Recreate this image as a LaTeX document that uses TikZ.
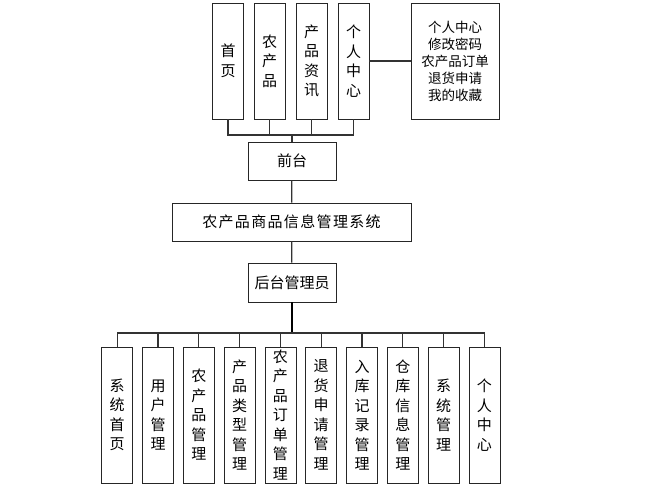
\documentclass[tikz,border=0pt]{standalone}
\usepackage{fontspec}
\setmainfont{Noto Sans CJK SC}
\newfontfamily\widefont[LetterSpace=9]{Noto Sans CJK SC}

\begin{document}
\begin{tikzpicture}[x=1pt,y=-1pt,
  vbox/.style={draw=black!85,line width=0.8pt,minimum width=31pt,inner sep=0pt,align=center,font=\fontsize{15}{19.5}\selectfont},
  hbox/.style={draw=black!85,line width=0.8pt,minimum width=88pt,minimum height=38pt,inner sep=0pt,font=\fontsize{15}{17}\selectfont},
  link/.style={draw=black!80,line width=1.2pt}]
  \useasboundingbox (0,0) rectangle (651,490);
  % front end
  \foreach \n/\x/\t in {t1/228/{首\\页},t2/269.5/{农\\产\\品},t3/311.5/{产\\品\\资\\讯},t4/353.5/{个\\人\\中\\心}}
    \node[vbox,minimum height=116pt] (\n) at (\x,61){\t};
  \node[hbox,minimum width=88pt,minimum height=116pt,align=center,font=\fontsize{13.5}{17}\selectfont] (geren) at (455,61){个人中心\\修改密码\\农产品订单\\退货申请\\我的收藏};
  \draw[link] (t4.east) -- (geren.west);

  \node[hbox] (qiantai) at (292,161){前台};
  \node[hbox,minimum width=239pt] (xitong) at (291.5,222){\widefont 农产品商品信息管理系统};
  \node[hbox,minimum height=39pt] (houtai) at (292,282.5){后台管理员};

  \coordinate (tbus) at (292,135);
  \foreach \n in {t1,t2,t3,t4}
    \draw[link] (\n.south) |- (tbus);
  \draw[link] (tbus) -- (qiantai.north);
  \draw[link] (qiantai) -- (xitong);
  \draw[link] (xitong) -- (houtai);

  % back end
  \foreach \n/\x/\t in {b1/117.2/{系\\统\\首\\页},b2/158/{用\\户\\管\\理},b3/198.8/{农\\产\\品\\管\\理},b4/239.6/{产\\品\\类\\型\\管\\理},
      b5/280.4/{农\\产\\品\\订\\单\\管\\理},b6/321.2/{退\\货\\申\\请\\管\\理},b7/362/{入\\库\\记\\录\\管\\理},b8/402.8/{仓\\库\\信\\息\\管\\理},
      b9/443.6/{系\\统\\管\\理},b10/484.4/{个\\人\\中\\心}}
    \node[vbox,minimum height=136pt] (\n) at (\x,415){\t};
  \coordinate (bbus) at (292,333);
  \draw[line width=2pt] (houtai.south) -- (bbus);
  \foreach \n in {b1,b2,b3,b4,b5,b6,b7,b8,b9,b10}
    \draw[link] (\n.north) |- (bbus);
\end{tikzpicture}
\end{document}
